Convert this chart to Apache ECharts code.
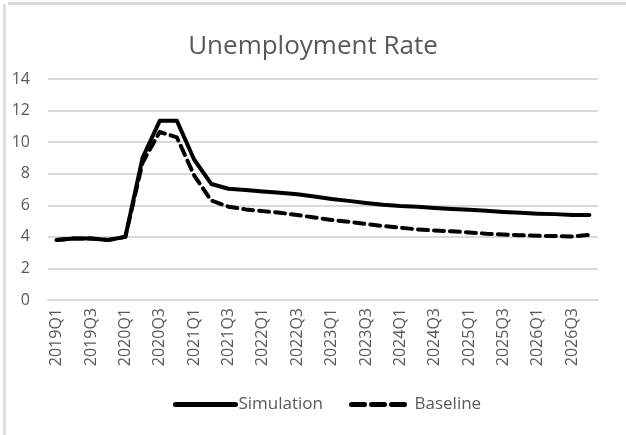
<!DOCTYPE html>
<html>
<head>
<meta charset="utf-8">
<script src="https://cdn.jsdelivr.net/npm/echarts@6/dist/echarts.min.js"></script>
<style>
  html, body { margin: 0; padding: 0; background: #fff; }
  #main { width: 626px; height: 435px; }
</style>
</head>
<body>
<div id="main"></div>
<script>
// quarters 2019Q1 .. 2026Q4
const quarters = []
for (let y = 2019; y <= 2026; y++) {
  for (let q = 1; q <= 4; q++) quarters.push(y + 'Q' + q)
}

// unemployment rate, %
const simulation = [3.8, 3.9, 3.9, 3.8, 4.0, 9.0, 11.35, 11.35, 8.9, 7.35, 7.05, 6.97,
  6.88, 6.8, 6.7, 6.55, 6.4, 6.28, 6.15, 6.03, 5.95, 5.9, 5.83, 5.77,
  5.72, 5.65, 5.58, 5.52, 5.47, 5.44, 5.38, 5.38]
const baseline = [3.8, 3.9, 3.9, 3.8, 4.0, 8.7, 10.65, 10.3, 7.9, 6.3, 5.91, 5.74,
  5.63, 5.53, 5.38, 5.23, 5.07, 4.96, 4.81, 4.69, 4.58, 4.47, 4.4, 4.35,
  4.28, 4.2, 4.15, 4.1, 4.07, 4.05, 4.03, 4.12]

const yTicks = { min: 0, max: 14, step: 2 }

const textColor = '#595959'
const gridColor = '#d9d9d9'
const font = 'Open Sans'

const chart = echarts.init(document.getElementById('main'), null, { renderer: 'canvas' })

const option = {
  backgroundColor: '#fff',
  animation: false,
  title: {
    text: 'Unemployment Rate',
    left: 'center',
    top: 29,
    textStyle: { fontFamily: font, fontSize: 26, fontWeight: 'normal', color: textColor }
  },
  legend: {
    bottom: 17,
    left: 168,
    itemWidth: 60,
    itemHeight: 14,
    itemGap: 26,
    itemStyle: { opacity: 0 },  // 只留线，不要圆点
    lineStyle: { width: 5 },
    textStyle: { fontFamily: font, fontSize: 17, color: textColor, padding: [0, 0, 0, -2] },
    data: [
      { name: 'Simulation' },
      { name: 'Baseline', lineStyle: { type: [13, 7], width: 5 } }
    ]
  },
  grid: { left: 48, right: 28, top: 79, bottom: 135, containLabel: false },
  xAxis: {
    type: 'category',
    boundaryGap: true,
    data: quarters,
    axisLine: { show: true, lineStyle: { color: gridColor, width: 2 } },
    axisTick: { show: false },
    axisLabel: {
      interval: 1,
      rotate: 90,
      margin: 8,
      fontFamily: font,
      fontSize: 16,
      color: textColor
    }
  },
  yAxis: {
    type: 'value',
    min: yTicks.min,
    max: yTicks.max,
    interval: yTicks.step,
    axisLine: { show: false },
    axisTick: { show: false },
    axisLabel: { margin: 18, fontFamily: font, fontSize: 16, color: textColor },
    splitLine: { lineStyle: { color: gridColor, width: 2 } }
  },
  series: [
    {
      name: 'Simulation',
      type: 'line',
      data: simulation,
      symbol: 'none',
      lineStyle: { color: '#000', width: 4, cap: 'round', join: 'round' },
      itemStyle: { color: '#000' }
    },
    {
      name: 'Baseline',
      type: 'line',
      data: baseline,
      symbol: 'none',
      lineStyle: { color: '#000', width: 4, type: [10, 6], cap: 'round', join: 'round' },
      itemStyle: { color: '#000' }
    }
  ],
  // chart area border, partly cropped in the picture
  graphic: [
    { type: 'line', shape: { x1: 8, y1: 3.5, x2: 626, y2: 3.5 }, style: { stroke: gridColor, lineWidth: 3 } },
    { type: 'line', shape: { x1: 4.5, y1: 4, x2: 4.5, y2: 435 }, style: { stroke: gridColor, lineWidth: 2.5 } }
  ]
}

chart.setOption(option)
</script>
</body>
</html>
